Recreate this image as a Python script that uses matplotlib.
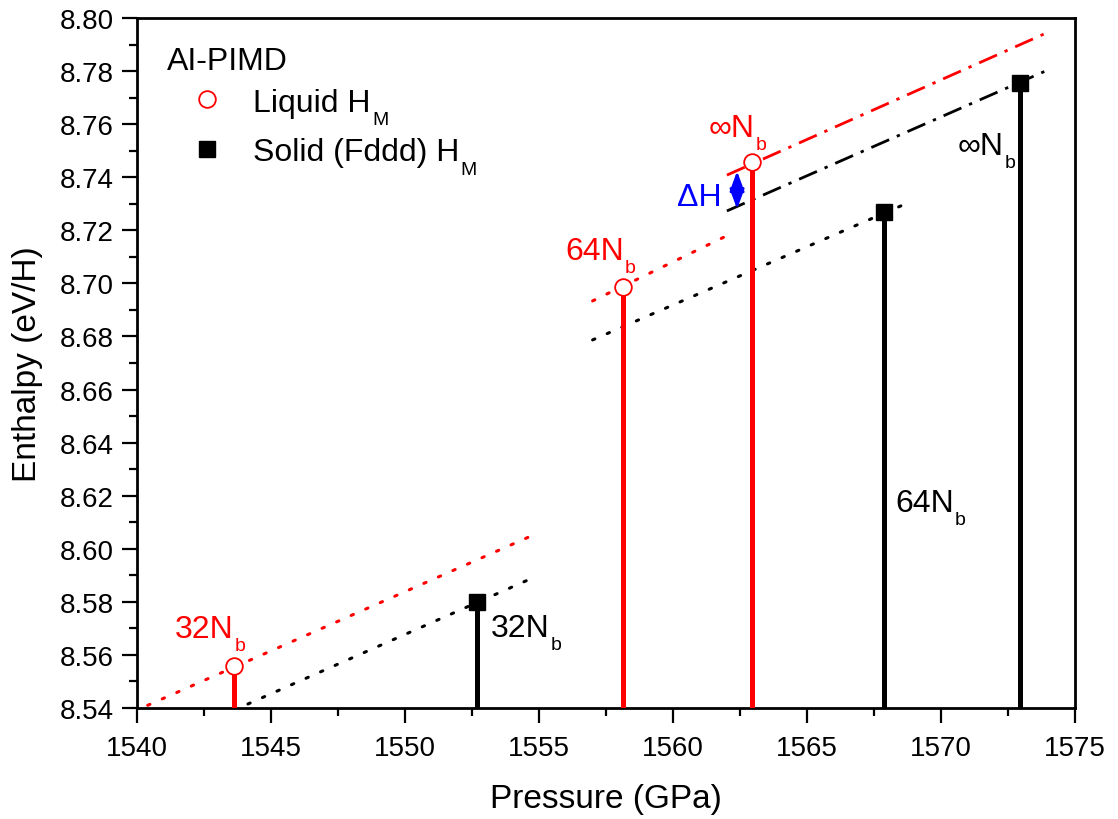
from matplotlib import pyplot as plt
import numpy as np

plt.rcParams['font.family'] = ['Liberation Sans', 'DejaVu Sans']

# enthalpy points (pressure GPa, enthalpy eV/H)
liq_p = [1543.62, 1558.13, 1562.95]
liq_h = [8.556, 8.6986, 8.7457]
sol_p = [1552.69, 1567.87, 1572.95]
sol_h = [8.580, 8.7269, 8.7755]

# fit lines: (p0, p1), (h0, h1)
red_dot32 = ([1540.4, 1555.04], [8.541, 8.6063])
blk_dot32 = ([1544.14, 1554.85], [8.5415, 8.5894])
red_dot64 = ([1557.0, 1562.3], [8.6934, 8.7194])
blk_dot64 = ([1557.0, 1568.66], [8.6787, 8.7299])
red_dd = ([1562.01, 1574.07], [8.7408, 8.795])
blk_dd = ([1562.01, 1574.07], [8.7273, 8.7808])

dh_p = 1562.39
dh_h = [8.7423, 8.728]

# labels: text, subscript, x, y (baseline), colour
labels = [('32N', 'b', 1541.42, 8.5668, 'red'),
          ('32N', 'b', 1553.21, 8.5671, 'black'),
          ('64N', 'b', 1555.97, 8.7092, 'red'),
          ('∞N', 'b', 1561.31, 8.7555, 'red'),
          ('∞N', 'b', 1570.60, 8.7487, 'black'),
          ('64N', 'b', 1568.28, 8.6142, 'black')]

leg_title = 'AI-PIMD'
leg_text = ['Liquid H', 'Solid (Fddd) H']
leg_sub = ['M', 'M']


def sub_text(x, y, main, sub, color, size=23, transform=None, ha='left'):
    kw = {} if transform is None else {'transform': transform}
    t = ax.text(x, y, main, color=color, fontsize=size, ha=ha, va='baseline', **kw)
    ax.annotate(sub, xy=(1, 0), xycoords=t, xytext=(1, -4.5), textcoords='offset points',
                color=color, fontsize=14, ha='left', va='baseline')
    return t


fig = plt.figure(figsize=(11.18, 8.2), dpi=100)
ax = fig.add_axes([0.1225, 0.1354, 0.8391, 0.8414])

dotted = (0, (0.8, 4.4))
dashdot = (0, (7, 3, 1.2, 3))
ax.plot(*red_dot32, color='red', lw=2.2, ls=dotted, dash_capstyle='round')
ax.plot(*blk_dot32, color='black', lw=2.2, ls=dotted, dash_capstyle='round')
ax.plot(*red_dot64, color='red', lw=2.2, ls=dotted, dash_capstyle='round')
ax.plot(*blk_dot64, color='black', lw=2.2, ls=dotted, dash_capstyle='round')
ax.plot(*red_dd, color='red', lw=2, ls=dashdot)
ax.plot(*blk_dd, color='black', lw=2, ls=dashdot)

ax.vlines(liq_p, 8.54, liq_h, color='red', lw=3.6, zorder=3)
ax.vlines(sol_p, 8.54, sol_h, color='black', lw=3.6, zorder=3)
ax.plot(liq_p, liq_h, 'o', ms=12, mfc='white', mec='red', mew=1.3, ls='none', zorder=4)
ax.plot(sol_p, sol_h, 's', ms=11, color='black', ls='none', zorder=4)

ax.annotate('', xy=(dh_p, dh_h[1]), xytext=(dh_p, dh_h[0]),
            arrowprops=dict(arrowstyle='<|-|>,head_length=0.6,head_width=0.22',
                            color='blue', lw=2, mutation_scale=20,
                            shrinkA=0, shrinkB=0))
ax.text(1561.83, 8.7295, 'ΔH', color='blue', fontsize=23, ha='right', va='baseline')

for main, sub, x, y, c in labels:
    sub_text(x, y, main, sub, c)

# legend drawn by hand (axes fraction)
ax.text(0.032, 0.9377, leg_title, fontsize=23, va='center', transform=ax.transAxes)
ax.plot([0.0746], [0.8826], 'o', ms=12, mfc='white', mec='red', mew=1.3,
        transform=ax.transAxes)
ax.plot([0.0746], [0.8101], 's', ms=11, color='black', transform=ax.transAxes)
sub_text(0.1237, 0.8659, leg_text[0], leg_sub[0], 'black', transform=ax.transAxes)
sub_text(0.1237, 0.7935, leg_text[1], leg_sub[1], 'black', transform=ax.transAxes)

ax.set_xlim(1540, 1575)
ax.set_ylim(8.54, 8.80)
ax.set_xticks(np.arange(1540, 1576, 5))
ax.set_xticks(np.arange(1540, 1576, 2.5), minor=True)
ax.set_yticks(np.arange(8.54, 8.801, 0.02))
ax.set_yticks(np.arange(8.54, 8.801, 0.01), minor=True)
ax.yaxis.set_major_formatter(plt.FormatStrFormatter('%.2f'))
ax.tick_params(which='major', direction='out', length=10.5, width=1.6, labelsize=20)
ax.tick_params(axis='x', which='major', pad=9)
ax.tick_params(axis='y', which='major', pad=6)
ax.tick_params(which='minor', direction='out', length=6, width=1.6)
for s in ax.spines.values():
    s.set_linewidth(2)
ax.set_xlabel('Pressure (GPa)', fontsize=24, labelpad=16)
ax.set_ylabel('Enthalpy (eV/H)', fontsize=24, labelpad=12)

fig.savefig('out.png')
